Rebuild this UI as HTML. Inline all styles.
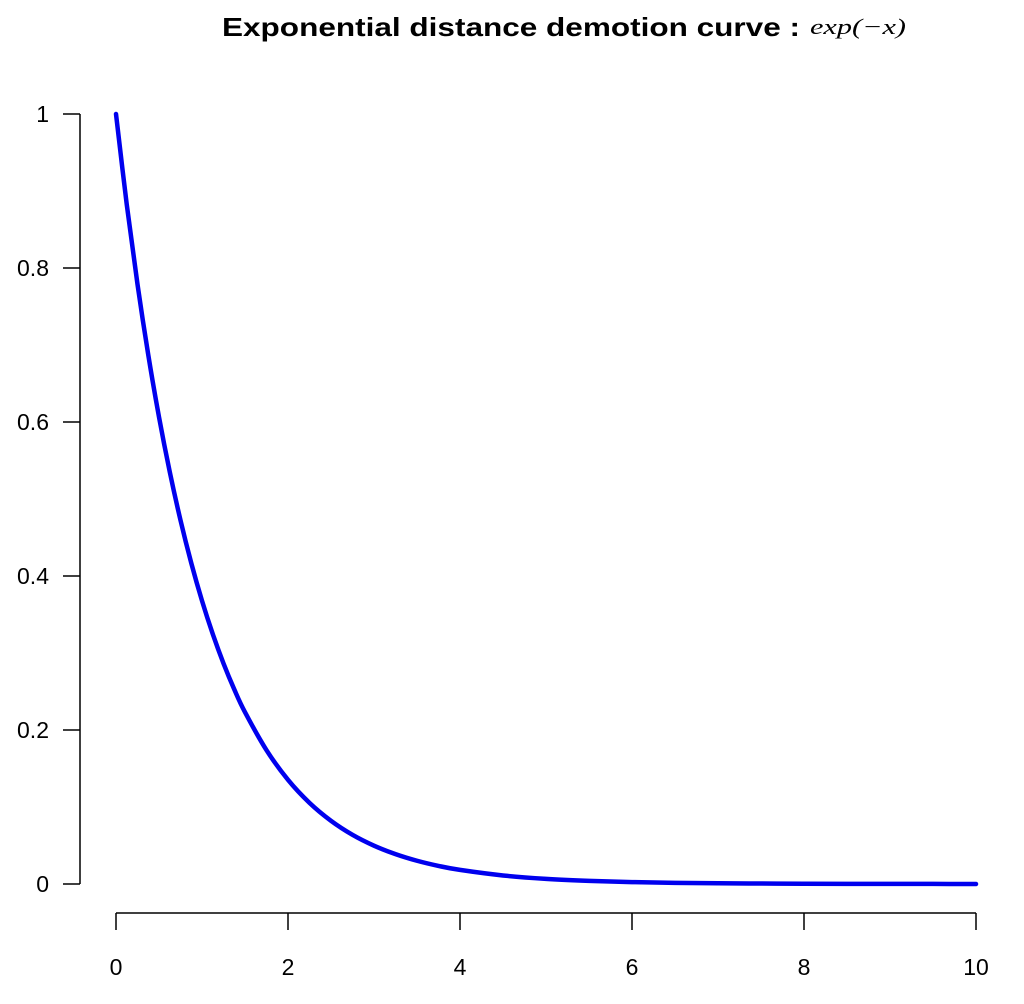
<!DOCTYPE html>
<html><head><meta charset="utf-8"><style>html,body{margin:0;padding:0;background:#fff}svg{display:block}</style></head>
<body>
<svg width="1024" height="1004" xmlns="http://www.w3.org/2000/svg" font-family="Liberation Sans, sans-serif">
<text x="222" y="36" font-size="26" font-weight="bold" textLength="578" lengthAdjust="spacingAndGlyphs">Exponential distance demotion curve :</text>
<text x="810" y="34" font-size="22" font-style="italic" font-family="Liberation Serif, serif" textLength="96" lengthAdjust="spacingAndGlyphs">exp(−x)</text>
<g id="axes"></g>
<path id="curve" fill="none" stroke="#0000ee" stroke-width="4.5" stroke-linejoin="round" stroke-linecap="round"/>
</svg>
<script>
const xVals=[0,0.125,0.25,0.375,0.5,0.625,0.75,0.875,1,1.125,1.25,1.375,1.5,1.75,2,2.25,2.5,2.75,3,3.25,3.5,3.75,4,4.5,5,5.5,6,6.5,7,7.5,8,8.5,9,9.5,10];
const yVals=[1,0.8825,0.7788,0.6873,0.6065,0.5353,0.4724,0.4169,0.3679,0.3247,0.2865,0.2528,0.2231,0.1738,0.1353,0.1054,0.0821,0.0639,0.0498,0.0388,0.0302,0.0235,0.0183,0.0111,0.0067,0.0041,0.0025,0.0015,0.0009,0.0006,0.0003,0.0002,0.0001,0.0001,0];
const xTicks=[0,2,4,6,8,10];
const yTicks=[0,0.2,0.4,0.6,0.8,1];
const yTickLabels=["0","0.2","0.4","0.6","0.8","1"];
const sx=v=>116+v*86, sy=v=>884-v*770;
const NS="http://www.w3.org/2000/svg";
const g=document.getElementById('axes');
function el(t,a,parent){const e=document.createElementNS(NS,t);for(const k in a)e.setAttribute(k,a[k]);(parent||g).appendChild(e);return e;}
let e=el('line',{x1:sx(0),x2:sx(10),y1:913,y2:913,stroke:'#000','stroke-width':1.5});


e=el('line',{x1:80,x2:80,y1:sy(0),y2:sy(1),stroke:'#000','stroke-width':1.5});


xTicks.forEach(t=>{
 let l=el('line',{x1:sx(t),x2:sx(t),y1:913,y2:930,stroke:'#000','stroke-width':1.5});
 
 
 let tx=el('text',{x:sx(t),y:975,'font-size':23,'text-anchor':'middle'});
 tx.textContent=String(t);
 
 
});
yTicks.forEach((t,i)=>{
 let l=el('line',{x1:63,x2:80,y1:sy(t),y2:sy(t),stroke:'#000','stroke-width':1.5});
 
 
 let tx=el('text',{x:49,y:sy(t)+8,'font-size':23,'text-anchor':'end'});
 tx.textContent=yTickLabels[i];
 
 
});
const P=xVals.map((x,i)=>[sx(x),sy(yVals[i])]);
let d='M'+P[0][0]+','+P[0][1];
for(let i=0;i<P.length-1;i++){
 const p0=P[i-1]||P[i],p1=P[i],p2=P[i+1],p3=P[i+2]||P[i+1];
 const c1=[p1[0]+(p2[0]-p0[0])/6,p1[1]+(p2[1]-p0[1])/6];
 const c2=[p2[0]-(p3[0]-p1[0])/6,p2[1]-(p3[1]-p1[1])/6];
 d+=' C'+c1[0]+','+c1[1]+' '+c2[0]+','+c2[1]+' '+p2[0]+','+p2[1];
}
document.getElementById('curve').setAttribute('d',d);
</script>
</body></html>
